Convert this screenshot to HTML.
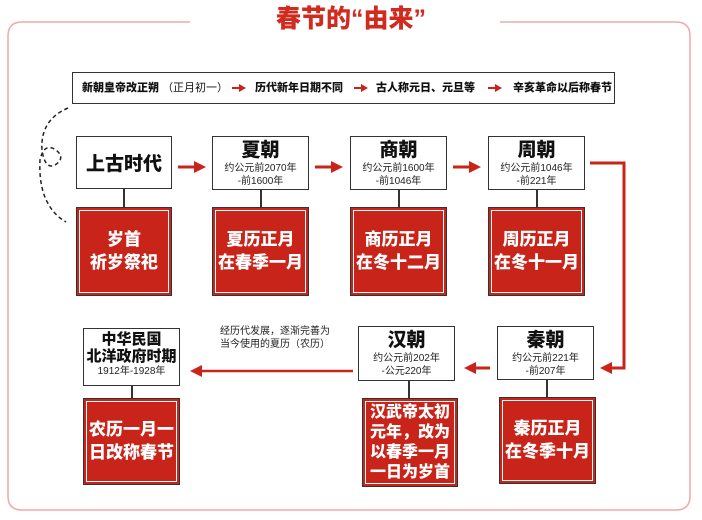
<!DOCTYPE html><html><head><meta charset="utf-8"><style>
*{margin:0;padding:0;box-sizing:border-box}
body{width:702px;height:520px;background:#fff;position:relative;overflow:hidden;font-family:"Liberation Sans","Noto Sans CJK SC",sans-serif;color:#111}
.a{position:absolute;white-space:nowrap}
.box{position:absolute;border:1.5px solid #333;background:#fff;text-align:center}
.red{position:absolute;background:#c8241a;border:1.5px solid #333;outline:1.5px solid #fff;outline-offset:-4px;color:#fff;font-weight:900;text-align:center;display:flex;align-items:center;justify-content:center;line-height:1.35}
.h{font-weight:900;font-size:19px;line-height:22px;margin-top:3px}
.s{font-size:10px;line-height:13px;color:#222}
.v{position:absolute;width:1.5px;background:#333}
</style></head><body>
<svg class="a" style="left:0;top:0" width="702" height="520">
<path d="M190 22 H22 Q8 22 8 36 V496 Q8 510 22 510 H676 Q690 510 690 496 V36 Q690 22 676 22 H500" fill="none" stroke="#f2a9a9" stroke-width="1.5"/>
<g stroke="#c8241a" fill="#c8241a" stroke-width="3">
<line x1="178" y1="167" x2="196" y2="167"/><polygon points="194,161 206,167 194,173" stroke="none"/>
<line x1="315" y1="167" x2="333" y2="167"/><polygon points="331,161 343,167 331,173" stroke="none"/>
<line x1="453" y1="167" x2="471" y2="167"/><polygon points="469,161 481,167 469,173" stroke="none"/>
<polyline points="590,163 624,163 624,368 610,368" fill="none"/><polygon points="612,362 600,368 612,374" stroke="none"/>
<line x1="490" y1="368" x2="474" y2="368"/><polygon points="476,362 464,368 476,374" stroke="none"/>
<line x1="353" y1="371" x2="200" y2="371" stroke-width="2.5"/><polygon points="202,365 190,371 202,377" stroke="none"/>
<line x1="232" y1="88" x2="240" y2="88" stroke-width="2"/><polygon points="239,84 246,88 239,92" stroke="none"/>
<line x1="354" y1="88" x2="362" y2="88" stroke-width="2"/><polygon points="361,84 368,88 361,92" stroke="none"/>
<line x1="488" y1="88" x2="496" y2="88" stroke-width="2"/><polygon points="495,84 502,88 495,92" stroke="none"/>
</g>
<path d="M68 108 Q40 120 42 150 Q45 170 55 165 Q66 158 56 150 Q44 142 40 160 Q38 200 60 218 L66 222" fill="none" stroke="#222" stroke-width="1.5" stroke-dasharray="4,3"/>
</svg>
<div class="a" style="left:0;width:702px;top:2px;text-align:center;color:#d12a1e;font-weight:900;font-size:25px;line-height:34px">春节的“由来”</div>
<div class="box" style="left:72px;top:72px;width:543px;height:32px;font-size:11px;line-height:30px;font-weight:900;background:transparent">
<span class="a" style="left:9px">新朝皇帝改正朔 <span style="font-weight:400">（正月初一）</span></span>
<span class="a" style="left:182px">历代新年日期不同</span>
<span class="a" style="left:303px">古人称元日、元旦等</span>
<span class="a" style="left:440px">辛亥革命以后称春节</span></div>

<div class="box" style="left:76px;top:136px;width:96px;height:53px;display:flex;align-items:center;justify-content:center;font-weight:900;font-size:19px">上古时代</div>
<div class="box" style="left:212px;top:136px;width:97px;height:54px"><div class="h">夏朝</div><div class="s">约公元前2070年<br>-前1600年</div></div>
<div class="box" style="left:350px;top:136px;width:97px;height:54px"><div class="h">商朝</div><div class="s">约公元前1600年<br>-前1046年</div></div>
<div class="box" style="left:488px;top:136px;width:97px;height:54px"><div class="h">周朝</div><div class="s">约公元前1046年<br>-前221年</div></div>
<div class="v" style="left:123px;top:189px;height:18px"></div>
<div class="v" style="left:260px;top:190px;height:17px"></div>
<div class="v" style="left:398px;top:190px;height:17px"></div>
<div class="v" style="left:536px;top:190px;height:17px"></div>
<div class="red" style="left:76px;top:207px;width:96px;height:89px;font-size:17px">岁首<br>祈岁祭祀</div>
<div class="red" style="left:212px;top:207px;width:97px;height:89px;font-size:17px">夏历正月<br>在春季一月</div>
<div class="red" style="left:350px;top:207px;width:97px;height:89px;font-size:17px">商历正月<br>在冬十二月</div>
<div class="red" style="left:488px;top:207px;width:97px;height:89px;font-size:17px">周历正月<br>在冬十一月</div>

<div class="box" style="left:83px;top:328px;width:97px;height:58px"><div style="font-weight:900;font-size:15px;line-height:17px;margin-top:2px">中华民国<br>北洋政府时期</div><div class="s">1912年-1928年</div></div>
<div class="box" style="left:358px;top:326px;width:97px;height:55px"><div class="h">汉朝</div><div class="s">约公元前202年<br>-公元220年</div></div>
<div class="box" style="left:497px;top:326px;width:97px;height:54px"><div class="h">秦朝</div><div class="s">约公元前221年<br>-前207年</div></div>
<div class="a s" style="left:205px;top:325px;width:140px;text-align:center;font-size:10px">经历代发展，逐渐完善为<br>当今使用的夏历（农历）</div>
<div class="v" style="left:131px;top:386px;height:12px"></div>
<div class="v" style="left:408px;top:381px;height:17px"></div>
<div class="v" style="left:546px;top:380px;height:17px"></div>
<div class="red" style="left:83px;top:398px;width:97px;height:87px;font-size:17px">农历一月一<br>日改称春节</div>
<div class="red" style="left:362px;top:398px;width:96px;height:89px;font-size:16px;line-height:1.25">汉武帝太初<br>元年，改为<br>以春季一月<br>一日为岁首</div>
<div class="red" style="left:499px;top:397px;width:97px;height:87px;font-size:17px">秦历正月<br>在冬季十月</div>
</body></html>
